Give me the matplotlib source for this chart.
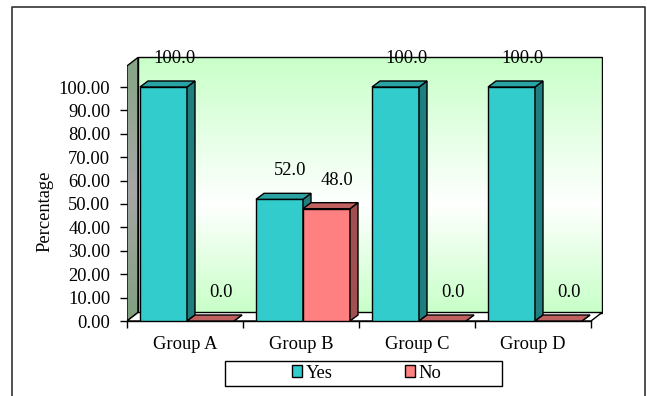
import numpy as np
import matplotlib
matplotlib.use("Agg")
import matplotlib.pyplot as plt
from matplotlib.patches import Polygon, Rectangle
from matplotlib.lines import Line2D
from matplotlib.colors import LinearSegmentedColormap

plt.rcParams['font.family'] = ['Liberation Serif', 'DejaVu Serif']

# data
groups = ['Group A', 'Group B', 'Group C', 'Group D']
yes_pct = [100.0, 52.0, 100.0, 100.0]
no_pct = [0.0, 48.0, 0.0, 0.0]
yticks = [0, 10, 20, 30, 40, 50, 60, 70, 80, 90, 100]

W, H = 647, 396
FS = 13.3
fig = plt.figure(figsize=(W / 100, H / 100), dpi=100)

# plot area in pixels: x 0..4 -> 127..591, y 0..100 -> 321..87
px_x = 116.0   # pixels per category
px_y = 2.34    # pixels per percent
ax = fig.add_axes([127 / W, 1 - 321 / H, (603 - 127) / W, (321 - 40) / H])
ax.set_xlim(0, (603 - 127) / px_x)
ax.set_ylim(0, (321 - 40) / px_y)
for s in ax.spines.values():
    s.set_visible(False)

n = len(groups)
wall_top = 109
wdx, wdy = 11 / px_x, 8.5 / px_y     # wall depth
bdx, bdy = 8 / px_x, 6 / px_y        # bar depth

# back wall with gradient
back = Polygon([(wdx, wdy), (wdx, wall_top + wdy), (n + wdx, wall_top + wdy), (n + wdx, wdy)],
               closed=True, facecolor='none', edgecolor='black', lw=1.0, zorder=1.5)
ax.add_patch(back)
cm_back = LinearSegmentedColormap.from_list('bk', [(0, '#c8ffc8'), (0.42, '#ffffff'), (1, '#c8ffc8')])
grad = np.linspace(0, 1, 256).reshape(-1, 1)
im = ax.imshow(grad, cmap=cm_back, origin='lower', aspect='auto',
               extent=(wdx, n + wdx, wdy, wall_top + wdy), zorder=1)
im.set_clip_path(back)

# left wall
left = Polygon([(0, 0), (0, wall_top), (wdx, wall_top + wdy), (wdx, wdy)],
               closed=True, facecolor='none', edgecolor='black', lw=1.0, zorder=1.6)
ax.add_patch(left)
cm_left = LinearSegmentedColormap.from_list('lw', [(0, '#7fa07f'), (0.5, '#a6a6a6'), (1, '#85a585')])
im2 = ax.imshow(grad, cmap=cm_left, origin='lower', aspect='auto',
                extent=(0, wdx, 0, wall_top + wdy), zorder=1)
im2.set_clip_path(left)

# floor
ax.add_patch(Polygon([(0, 0), (n, 0), (n + wdx, wdy), (wdx, wdy)], closed=True,
                     facecolor='white', edgecolor='black', lw=1.0, zorder=1.7))

x = np.arange(n)
bw = 47 / px_x
off = 13 / px_x


def add_bars(xs, vals, front, side, top):
    ax.bar(xs, vals, width=bw, align='edge', color=front, edgecolor='black', lw=1.0, zorder=3)
    for xi, v in zip(xs, vals):
        ax.add_patch(Polygon([(xi + bw, 0), (xi + bw + bdx, bdy), (xi + bw + bdx, v + bdy), (xi + bw, v)],
                             closed=True, facecolor=side, edgecolor='black', lw=1.0, zorder=3))
        ax.add_patch(Polygon([(xi, v), (xi + bw, v), (xi + bw + bdx, v + bdy), (xi + bdx, v + bdy)],
                             closed=True, facecolor=top, edgecolor='black', lw=1.0, zorder=3))
        ax.annotate(f'{v:.1f}', (xi + bw / 2 + bdx, v + bdy), xytext=(2, 10),
                    textcoords='offset points', ha='center', va='bottom',
                    fontsize=FS, zorder=5, annotation_clip=False)


add_bars(x + off, yes_pct, '#33cccc', '#1f7f7f', '#29a3a3')
add_bars(x + off + bw, no_pct, '#ff8080', '#a05050', '#c06060')

# axes lines
ax.plot([0, n], [0, 0], color='black', lw=1.0, zorder=2, clip_on=False)

ax.set_yticks(yticks)
ax.set_yticklabels([f'{t:.2f}' for t in yticks])
ax.set_xticks(np.arange(n + 1))
ax.set_xticklabels([])
ax.set_xticks(x + 0.5, minor=True)
ax.set_xticklabels(groups, minor=True)
ax.tick_params(axis='y', length=5, width=1, pad=7, labelsize=FS)
ax.tick_params(axis='x', which='major', length=5, width=1, direction='out')
ax.tick_params(axis='x', which='minor', length=0, pad=11, labelsize=FS)

fig.text(45 / W, 1 - 211 / H, 'Percentage', rotation=90, ha='center', va='center', fontsize=FS)

# legend
fig.patches.append(Rectangle((225 / W, 1 - 386 / H), (502 - 225) / W, 25 / H,
                             transform=fig.transFigure, facecolor='white', edgecolor='black', lw=1.0))
handles = [Rectangle((0, 0), 1, 1, facecolor='#33cccc', edgecolor='black', lw=1.0),
           Rectangle((0, 0), 1, 1, facecolor='#ff8080', edgecolor='black', lw=1.0)]
fig.legend(handles, ['Yes', 'No'], loc='center', bbox_to_anchor=(367 / W, 1 - 373 / H),
           ncol=2, frameon=False, fontsize=FS, handlelength=0.55, handleheight=0.55,
           handletextpad=0.2, columnspacing=3.9, borderpad=0)

# outer border
fig.lines.append(Line2D([12 / W, 12 / W, 645 / W, 645 / W], [0, 1 - 7 / H, 1 - 7 / H, 0],
                        transform=fig.transFigure, color='#333333', lw=1.2))

fig.savefig('out.png', dpi=100)
